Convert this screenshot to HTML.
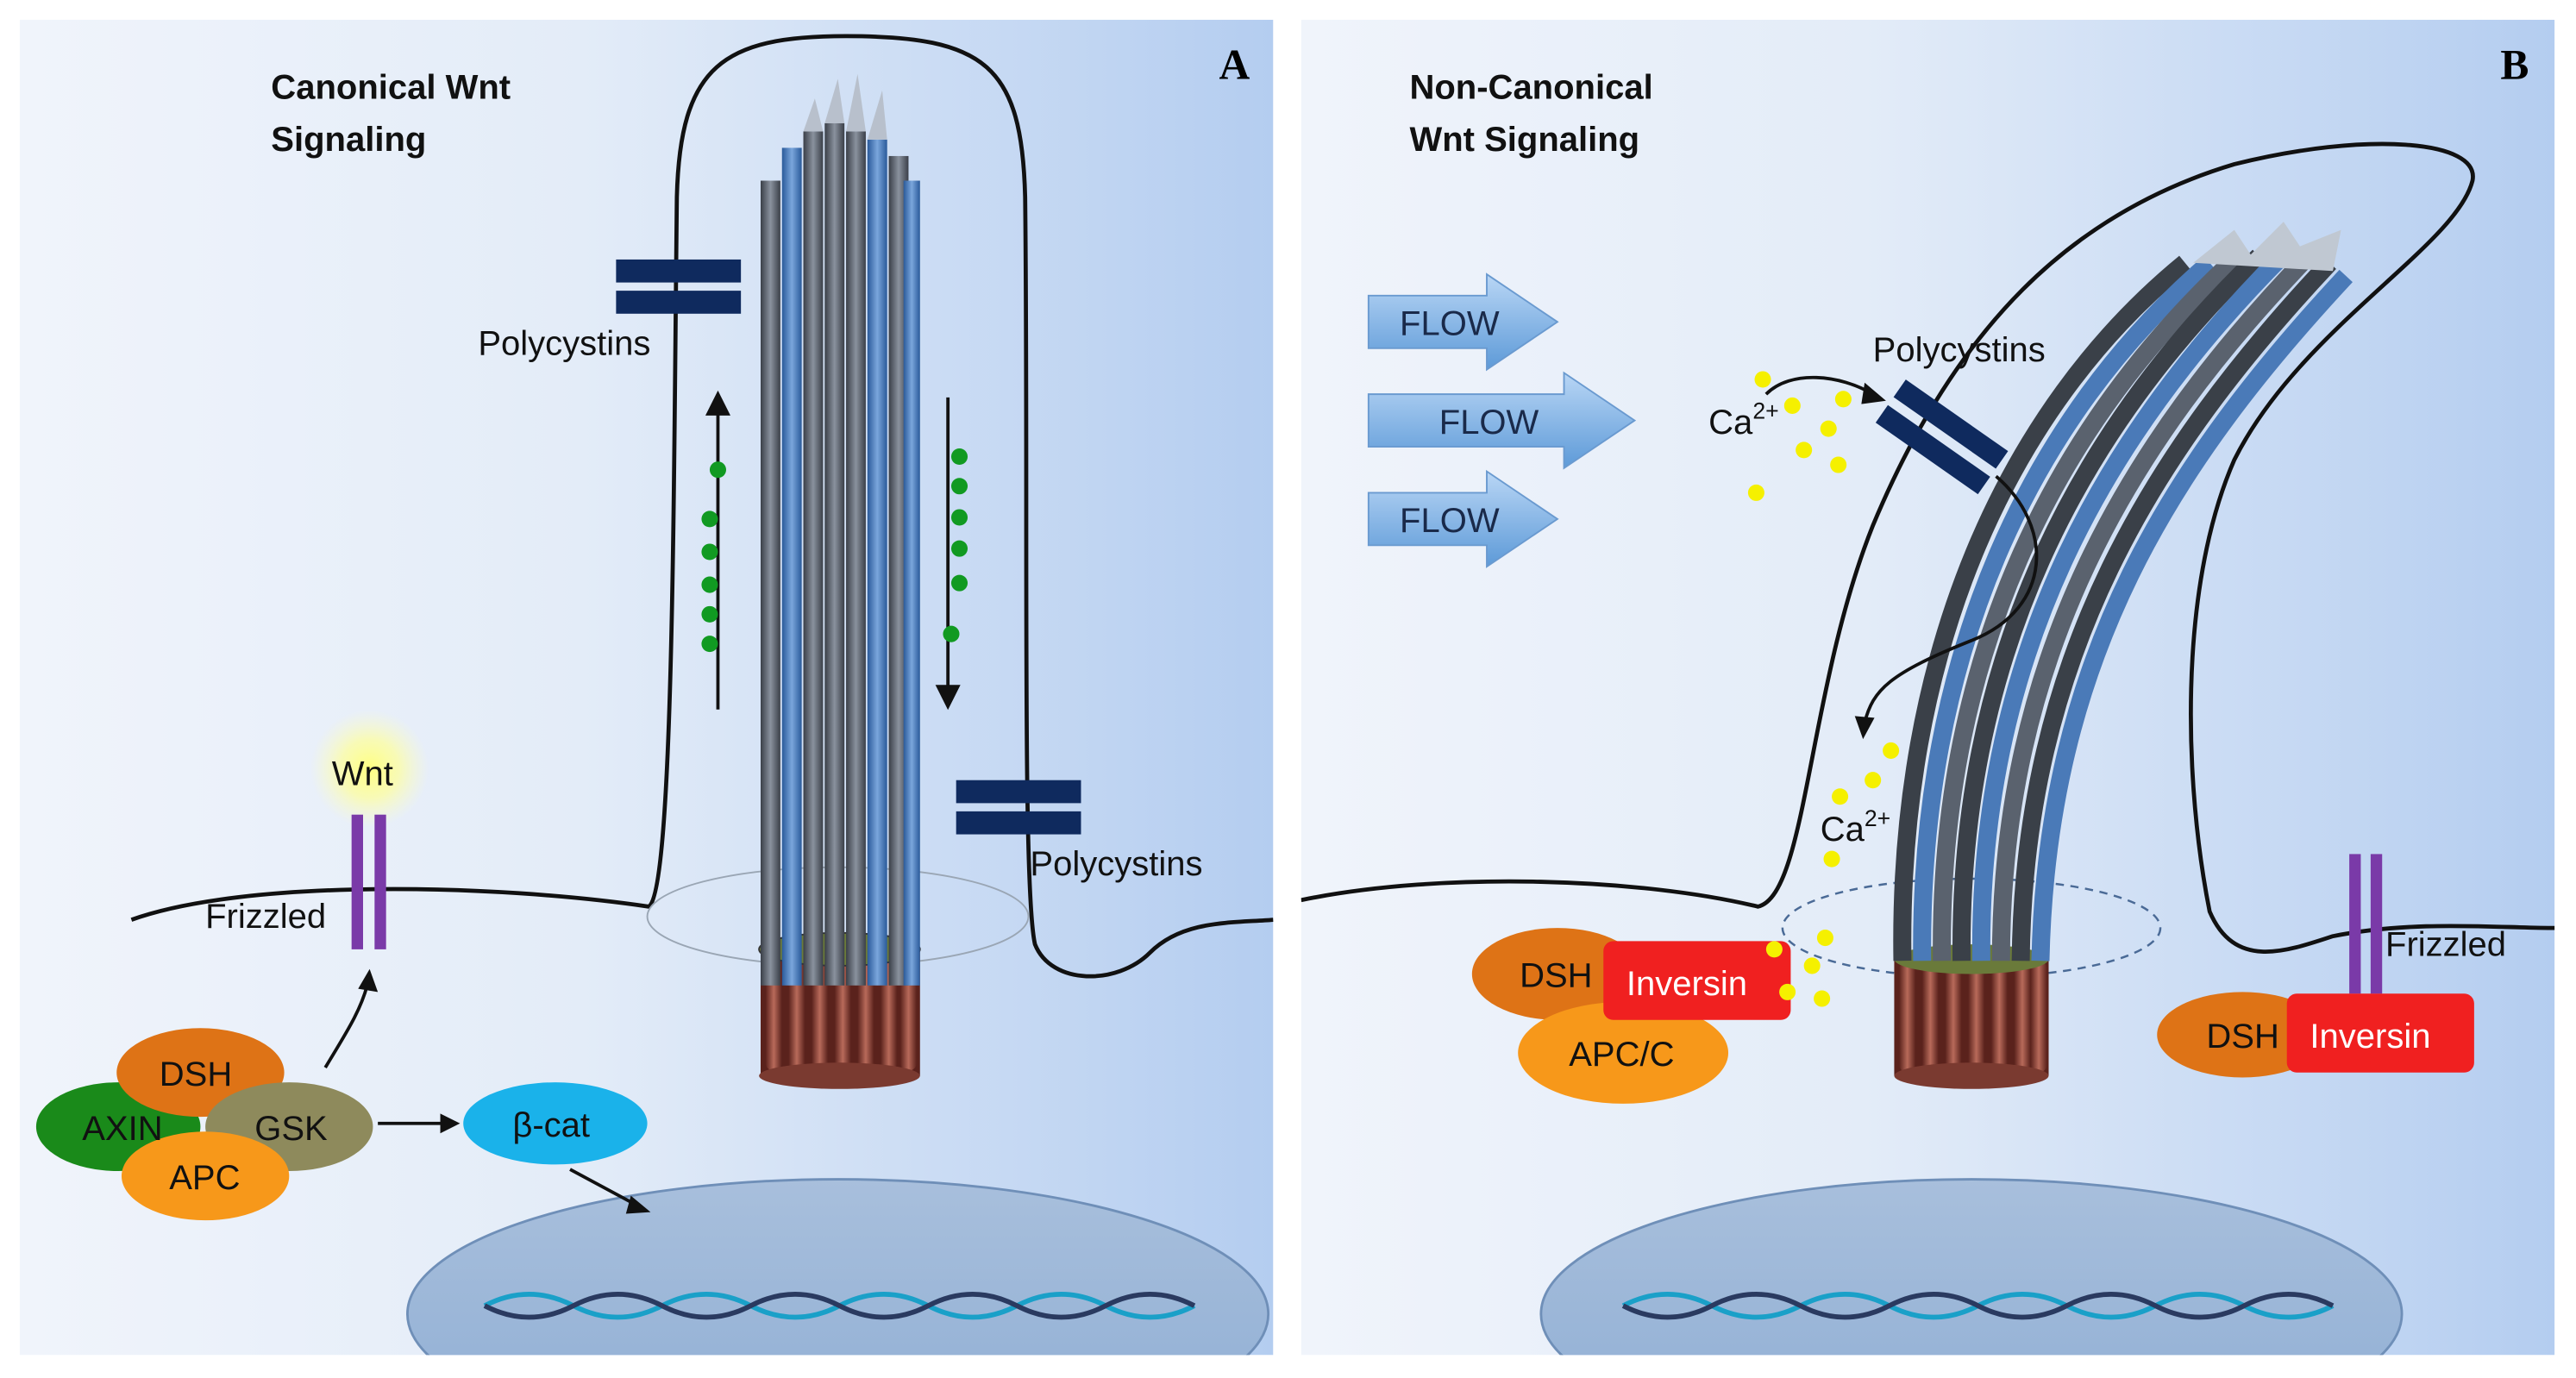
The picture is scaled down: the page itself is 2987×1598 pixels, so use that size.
<!DOCTYPE html>
<html><head><meta charset="utf-8"><style>
html,body{margin:0;padding:0;background:#fff;width:2987px;height:1598px;overflow:hidden}
#wrap{position:absolute;left:0;top:0;width:2987px;height:1598px;overflow:hidden}
svg{display:block;position:absolute;left:0;top:0}
text{font-family:"Liberation Sans",sans-serif}
</style></head><body>
<div id="wrap">
<svg width="2987" height="1598" viewBox="0 0 1568 839" preserveAspectRatio="none" xmlns="http://www.w3.org/2000/svg">
<defs>
<linearGradient id="bg" x1="0" x2="1" y1="0" y2="0"><stop offset="0" stop-color="#f0f4fb"/><stop offset="0.45" stop-color="#e3ecf8"/><stop offset="1" stop-color="#b4cdf0"/></linearGradient>
<linearGradient id="rod" x1="0" x2="1"><stop offset="0" stop-color="#3a3f48"/><stop offset="0.5" stop-color="#8a929e"/><stop offset="1" stop-color="#3a3f48"/></linearGradient>
<linearGradient id="rodb" x1="0" x2="1"><stop offset="0" stop-color="#2a5a9a"/><stop offset="0.5" stop-color="#7aa6dc"/><stop offset="1" stop-color="#2a5a9a"/></linearGradient>
<linearGradient id="basal" x1="0" x2="1"><stop offset="0" stop-color="#5a221c"/><stop offset="0.5" stop-color="#b86a5a"/><stop offset="1" stop-color="#5a221c"/></linearGradient>
<linearGradient id="flow" x1="0" x2="0" y1="0" y2="1"><stop offset="0" stop-color="#b9d6f5"/><stop offset="1" stop-color="#5d9ad8"/></linearGradient>
<radialGradient id="glow"><stop offset="0" stop-color="#ffff80"/><stop offset="0.5" stop-color="#ffff9a" stop-opacity="0.7"/><stop offset="1" stop-color="#ffffc0" stop-opacity="0"/></radialGradient>
<linearGradient id="nuc" x1="0" x2="0" y1="0" y2="1"><stop offset="0" stop-color="#a8bfdc"/><stop offset="1" stop-color="#8faed4"/></linearGradient>
<clipPath id="cA"><rect x="12" y="12" width="763" height="813"/></clipPath>
<clipPath id="cB"><rect x="792" y="12" width="763" height="813"/></clipPath>
</defs>
<rect width="1568" height="839" fill="#fff"/>
<g clip-path="url(#cA)">
<rect x="12" y="12" width="763" height="813" fill="url(#bg)"/>
<ellipse cx="510" cy="800" rx="262" ry="82" fill="url(#nuc)" stroke="#6f8fb8" stroke-width="1.5"/>
<g fill="none" stroke-width="3">
<path d="M295 795 q27 -14 54 0 t54 0 t54 0 t54 0 t54 0 t54 0 t54 0 t54 0" stroke="#1aa0c8"/>
<path d="M295 795 q27 14 54 0 t54 0 t54 0 t54 0 t54 0 t54 0 t54 0 t54 0" stroke="#2a3a60"/>
</g>
<path d="M80 560 C150 535 300 538 395 552 C410 540 410 300 412 120 C414 40 440 22 515 22 C600 22 622 40 624 120 C626 300 622 540 630 575 C640 600 680 600 700 580 C720 560 750 562 775 560" fill="none" stroke="#111" stroke-width="2.5"/>
<ellipse cx="510" cy="558" rx="116" ry="30" fill="none" stroke="#9aa6b4" stroke-width="1"/>
<g>
<rect x="463" y="578" width="97" height="77" fill="#5a221c"/>
<rect x="466" y="580" width="10" height="72" rx="5" fill="url(#basal)"/><rect x="480" y="580" width="10" height="72" rx="5" fill="url(#basal)"/>
<rect x="494" y="580" width="10" height="72" rx="5" fill="url(#basal)"/><rect x="508" y="580" width="10" height="72" rx="5" fill="url(#basal)"/>
<rect x="522" y="580" width="10" height="72" rx="5" fill="url(#basal)"/><rect x="536" y="580" width="10" height="72" rx="5" fill="url(#basal)"/>
<rect x="548" y="580" width="10" height="72" rx="5" fill="url(#basal)"/>
<ellipse cx="511" cy="655" rx="49" ry="8" fill="#7a3a30"/>
<ellipse cx="511" cy="578" rx="49" ry="10" fill="#6a7a3a" stroke="#333" stroke-width="1"/>
<rect x="463" y="110" width="12" height="490" fill="url(#rod)"/><rect x="476" y="90" width="12" height="510" fill="url(#rodb)"/>
<rect x="489" y="80" width="12" height="520" fill="url(#rod)"/><rect x="502" y="75" width="12" height="525" fill="url(#rod)"/>
<rect x="515" y="80" width="12" height="520" fill="url(#rod)"/><rect x="528" y="85" width="12" height="515" fill="url(#rodb)"/>
<rect x="541" y="95" width="12" height="505" fill="url(#rod)"/><rect x="550" y="110" width="10" height="490" fill="url(#rodb)"/>
<path d="M489 80 L496 60 L501 80 Z M502 75 L510 48 L514 75 Z M515 80 L522 45 L527 80 Z M528 85 L537 55 L540 85 Z" fill="#b8c0cc"/>
</g>
<g><rect x="375" y="158" width="76" height="14" fill="#0f2a5e"/><rect x="375" y="177" width="76" height="14" fill="#0f2a5e"/></g>
<text x="291" y="216" font-size="21" fill="#111">Polycystins</text>
<g><rect x="582" y="475" width="76" height="14" fill="#0f2a5e"/><rect x="582" y="494" width="76" height="14" fill="#0f2a5e"/></g>
<text x="627" y="533" font-size="21" fill="#111">Polycystins</text>
<g stroke="#111" stroke-width="2" fill="#111">
<line x1="437" y1="432" x2="437" y2="248"/><path d="M431 252 L437 240 L443 252 Z"/>
<line x1="577" y1="242" x2="577" y2="422"/><path d="M571 418 L577 430 L583 418 Z"/>
</g>
<g fill="#119a22">
<circle cx="437" cy="286" r="5"/><circle cx="432" cy="316" r="5"/><circle cx="432" cy="336" r="5"/><circle cx="432" cy="356" r="5"/><circle cx="432" cy="374" r="5"/><circle cx="432" cy="392" r="5"/>
<circle cx="584" cy="278" r="5"/><circle cx="584" cy="296" r="5"/><circle cx="584" cy="315" r="5"/><circle cx="584" cy="334" r="5"/><circle cx="584" cy="355" r="5"/><circle cx="579" cy="386" r="5"/>
</g>
<text x="165" y="60" font-size="21" font-weight="bold" fill="#111">Canonical Wnt</text>
<text x="165" y="92" font-size="21" font-weight="bold" fill="#111">Signaling</text>
<text x="742" y="48" font-size="26" font-weight="bold" style="font-family:'Liberation Serif',serif">A</text>
<circle cx="225" cy="468" r="36" fill="url(#glow)"/>
<text x="202" y="478" font-size="21" fill="#111">Wnt</text>
<rect x="214" y="496" width="7" height="82" fill="#7a3aa8"/><rect x="228" y="496" width="7" height="82" fill="#7a3aa8"/>
<text x="125" y="565" font-size="21" fill="#111">Frizzled</text>
<path d="M198 650 C210 630 220 615 224 598" fill="none" stroke="#111" stroke-width="2"/><path d="M218 602 L225 590 L230 604 Z" fill="#111"/>
<ellipse cx="72" cy="686" rx="50" ry="27" fill="#1a8a1a"/>
<ellipse cx="122" cy="653" rx="51" ry="27" fill="#de7316"/>
<ellipse cx="176" cy="686" rx="51" ry="27" fill="#8e8a5c"/>
<ellipse cx="125" cy="716" rx="51" ry="27" fill="#f7981a"/>
<text x="97" y="661" font-size="21" fill="#111">DSH</text>
<text x="50" y="694" font-size="21" fill="#111">AXIN</text>
<text x="155" y="694" font-size="21" fill="#111">GSK</text>
<text x="103" y="724" font-size="21" fill="#111">APC</text>
<line x1="230" y1="684" x2="270" y2="684" stroke="#111" stroke-width="2"/><path d="M268 678 L280 684 L268 690 Z" fill="#111"/>
<ellipse cx="338" cy="684" rx="56" ry="25" fill="#1ab2ea"/>
<text x="312" y="692" font-size="21" fill="#111">β-cat</text>
<line x1="347" y1="712" x2="388" y2="734" stroke="#111" stroke-width="2"/><path d="M384 728 L396 738 L381 739 Z" fill="#111"/>
</g>
<g clip-path="url(#cB)">
<rect x="792" y="12" width="763" height="813" fill="url(#bg)"/>
<ellipse cx="1200" cy="800" rx="262" ry="82" fill="url(#nuc)" stroke="#6f8fb8" stroke-width="1.5"/>
<g fill="none" stroke-width="3">
<path d="M988 795 q27 -14 54 0 t54 0 t54 0 t54 0 t54 0 t54 0 t54 0 t54 0" stroke="#1aa0c8"/>
<path d="M988 795 q27 14 54 0 t54 0 t54 0 t54 0 t54 0 t54 0 t54 0 t54 0" stroke="#2a3a60"/>
</g>
<path d="M792 548 C880 530 1000 535 1070 552 C1100 545 1100 420 1140 320 C1190 200 1260 130 1360 100 C1440 80 1510 85 1505 110 C1495 150 1400 200 1360 280 C1325 360 1330 480 1345 555 C1360 590 1390 580 1420 570 C1470 560 1520 565 1555 565" fill="none" stroke="#111" stroke-width="2.5"/>
<ellipse cx="1200" cy="565" rx="115" ry="30" fill="none" stroke="#4a6a96" stroke-width="1.3" stroke-dasharray="5,4"/>
<g>
<rect x="1153" y="583" width="94" height="72" fill="#5a221c"/>
<rect x="1156" y="585" width="10" height="68" rx="5" fill="url(#basal)"/><rect x="1170" y="585" width="10" height="68" rx="5" fill="url(#basal)"/>
<rect x="1184" y="585" width="10" height="68" rx="5" fill="url(#basal)"/><rect x="1198" y="585" width="10" height="68" rx="5" fill="url(#basal)"/>
<rect x="1212" y="585" width="10" height="68" rx="5" fill="url(#basal)"/><rect x="1226" y="585" width="10" height="68" rx="5" fill="url(#basal)"/>
<rect x="1236" y="585" width="10" height="68" rx="5" fill="url(#basal)"/>
<ellipse cx="1200" cy="655" rx="47" ry="8" fill="#7a3a30"/>
<ellipse cx="1200" cy="584" rx="47" ry="9" fill="#6a7a3a"/>
<g fill="none" stroke-width="11">
<path d="M1158 585 C1155 400 1220 250 1330 160" stroke="#3a4048"/>
<path d="M1170 585 C1168 400 1235 255 1345 160" stroke="#4a7ab8"/>
<path d="M1182 585 C1180 400 1250 260 1360 158" stroke="#5a626e"/>
<path d="M1194 585 C1192 400 1265 262 1375 156" stroke="#3a4048"/>
<path d="M1206 585 C1204 400 1280 265 1390 155" stroke="#4a7ab8"/>
<path d="M1218 585 C1218 400 1295 270 1405 156" stroke="#5a626e"/>
<path d="M1230 585 C1232 400 1310 275 1418 160" stroke="#3a4048"/>
<path d="M1242 585 C1246 400 1322 282 1428 168" stroke="#4a7ab8"/>
</g>
<path d="M1335 160 L1360 140 L1370 155 L1390 135 L1400 150 L1425 140 L1420 165 Z" fill="#c0c8d2"/>
</g>
<g transform="rotate(35 1182 266)"><rect x="1144" y="250" width="76" height="13" fill="#0f2a5e"/><rect x="1144" y="269" width="76" height="13" fill="#0f2a5e"/></g>
<text x="1140" y="220" font-size="21" fill="#111">Polycystins</text>
<g>
<path d="M833 180 H905 V167 L948 196 L905 225 V212 H833 Z" fill="url(#flow)" stroke="#6a9ad0"/>
<path d="M833 240 H952 V227 L995 256 L952 285 V272 H833 Z" fill="url(#flow)" stroke="#6a9ad0"/>
<path d="M833 300 H905 V287 L948 316 L905 345 V332 H833 Z" fill="url(#flow)" stroke="#6a9ad0"/>
<text x="852" y="204" font-size="21" fill="#1a2a4a">FLOW</text>
<text x="876" y="264" font-size="21" fill="#1a2a4a">FLOW</text>
<text x="852" y="324" font-size="21" fill="#1a2a4a">FLOW</text>
</g>
<text x="1040" y="264" font-size="21" fill="#111">Ca<tspan font-size="14" dy="-9">2+</tspan></text>
<path d="M1075 240 C1090 225 1120 228 1140 240" fill="none" stroke="#111" stroke-width="2"/><path d="M1135 233 L1148 244 L1133 246 Z" fill="#111"/>
<path d="M1215 290 C1250 320 1250 370 1200 390 C1150 410 1140 420 1135 440" fill="none" stroke="#111" stroke-width="2"/><path d="M1129 436 L1134 450 L1141 437 Z" fill="#111"/>
<g fill="#f5f000">
<circle cx="1073" cy="231" r="5"/><circle cx="1091" cy="247" r="5"/><circle cx="1122" cy="243" r="5"/><circle cx="1113" cy="261" r="5"/><circle cx="1098" cy="274" r="5"/><circle cx="1119" cy="283" r="5"/><circle cx="1069" cy="300" r="5"/>
<circle cx="1151" cy="457" r="5"/><circle cx="1140" cy="475" r="5"/><circle cx="1120" cy="485" r="5"/><circle cx="1115" cy="523" r="5"/>
<circle cx="1111" cy="571" r="5"/><circle cx="1103" cy="588" r="5"/><circle cx="1109" cy="608" r="5"/>
</g>
<text x="1108" y="512" font-size="21" fill="#111">Ca<tspan font-size="14" dy="-9">2+</tspan></text>
<ellipse cx="948" cy="593" rx="52" ry="28" fill="#de7316"/>
<ellipse cx="988" cy="641" rx="64" ry="31" fill="#f7981a"/>
<rect x="976" y="573" width="114" height="48" rx="6" fill="#f02020"/>
<circle cx="1080" cy="578" r="5" fill="#f5f000"/><circle cx="1088" cy="604" r="5" fill="#f5f000"/>
<text x="925" y="601" font-size="21" fill="#111">DSH</text>
<text x="990" y="606" font-size="21" fill="#fff">Inversin</text>
<text x="955" y="649" font-size="21" fill="#111">APC/C</text>
<rect x="1430" y="520" width="7" height="85" fill="#7a3aa8"/><rect x="1443" y="520" width="7" height="85" fill="#7a3aa8"/>
<text x="1452" y="582" font-size="21" fill="#111">Frizzled</text>
<ellipse cx="1365" cy="630" rx="52" ry="26" fill="#de7316"/>
<rect x="1392" y="605" width="114" height="48" rx="6" fill="#f02020"/>
<text x="1343" y="638" font-size="21" fill="#111">DSH</text>
<text x="1406" y="638" font-size="21" fill="#fff">Inversin</text>
<text x="858" y="60" font-size="21" font-weight="bold" fill="#111">Non-Canonical</text>
<text x="858" y="92" font-size="21" font-weight="bold" fill="#111">Wnt Signaling</text>
<text x="1522" y="48" font-size="26" font-weight="bold" style="font-family:'Liberation Serif',serif">B</text>
</g>
</svg>
</div>
</body></html>
